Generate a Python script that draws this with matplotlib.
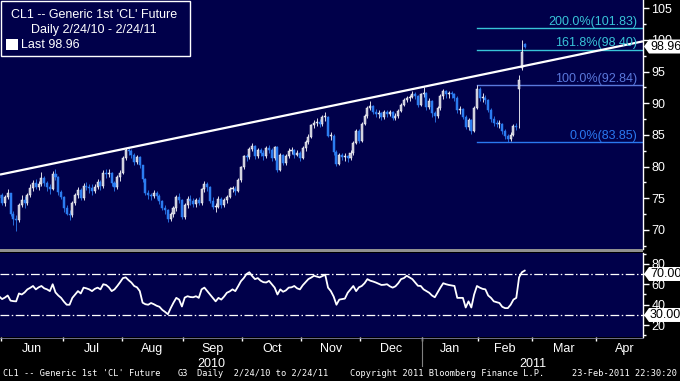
import numpy as np
import pandas as pd
import matplotlib
matplotlib.use("Agg")
import matplotlib.pyplot as plt
from matplotlib.patches import Rectangle, Polygon

# ---------------- data ----------------
holidays = ['2010-05-31', '2010-07-05', '2010-09-06', '2010-11-25', '2010-12-24',
            '2011-01-17', '2011-02-21', '2011-04-22']
first_date = '2010-05-27'
last_date = '2011-02-24'
axis_end_date = '2011-04-29'

closes = [
    75.0, 75.6, 74.3, 75.2, 75.8, 72.6, 71.8, 71.5, 74.0, 74.8, 74.2, 75.5, 76.6, 77.4, 76.8, 77.3, 78.2, 77.4, 76.8, 76.5, 78.9, 78.4, 76.0, 75.2,
    73.4, 72.6, 72.3, 74.2, 75.5, 76.3, 75.1, 77.0, 76.8, 76.6, 76.2, 76.8, 77.6, 76.9, 79.0, 78.9, 79.0, 77.4, 76.8, 78.3, 79.0,
    81.4, 82.6, 82.5, 81.9, 80.8, 81.5, 80.2, 78.0, 75.8, 75.5, 75.3, 75.8, 75.4, 74.5, 73.5, 73.1, 71.7, 72.6, 73.4, 75.2, 74.7, 72.0,
    73.9, 74.9, 74.6, 74.1, 74.7, 74.3, 76.4, 77.2, 76.8, 74.6, 73.7, 73.7, 74.9, 73.9, 74.7, 75.2, 76.5, 76.5, 76.2, 77.9, 79.9,
    81.6, 81.5, 82.8, 83.2, 81.7, 82.7, 82.2, 81.7, 83.0, 82.7, 81.3, 83.1, 79.5, 81.8, 80.6, 81.7, 82.5, 82.6, 81.9, 82.2, 81.4,
    83.0, 83.9, 84.7, 86.5, 86.9, 87.1, 86.7, 87.8, 87.8, 84.9, 84.9, 82.3, 80.4, 81.9, 81.5, 81.7, 81.3, 82.2, 83.8, 85.7, 84.1,
    86.8, 88.0, 89.2, 89.6, 88.7, 88.3, 88.4, 87.8, 88.6, 88.3, 88.6, 87.7, 88.0, 88.8, 89.8, 90.5, 90.8, 91.0, 91.5, 91.1, 89.8, 91.4,
    91.6, 89.4, 90.3, 88.4, 88.0, 89.3, 91.1, 91.9, 91.4, 91.5, 91.4, 90.9, 88.9, 89.1, 87.9, 86.2, 87.3, 85.6, 89.3, 92.2,
    90.8, 90.9, 90.5, 89.0, 87.5, 86.9, 86.7, 86.7, 85.6, 84.8, 84.3, 85.0, 86.4, 86.2, 93.6, 98.1, 98.96,
]
opens = [
    74.6, 75.0, 75.6, 74.3, 75.2, 75.8, 72.6, 71.8, 71.5, 74.0, 74.8, 74.2, 75.5, 76.6, 77.4, 76.8, 77.3, 78.2, 77.4, 76.8, 76.5, 78.9, 78.4, 76.0,
    75.2, 73.4, 72.6, 72.3, 74.2, 75.5, 76.3, 75.1, 77.0, 76.8, 76.6, 76.2, 76.8, 77.6, 76.9, 79.0, 78.9, 79.0, 77.4, 76.8, 78.3,
    79.0, 81.4, 82.6, 82.5, 81.9, 80.8, 81.5, 80.2, 78.0, 75.8, 75.5, 75.3, 75.8, 75.4, 74.5, 73.5, 73.1, 71.7, 72.6, 73.4, 75.2, 74.7,
    72.0, 73.9, 74.9, 74.6, 74.1, 74.7, 74.3, 76.4, 77.2, 76.8, 74.6, 73.7, 73.7, 74.9, 73.9, 74.7, 75.2, 76.5, 76.5, 76.2, 77.9,
    79.9, 81.6, 81.5, 82.8, 83.2, 81.7, 82.7, 82.2, 81.7, 83.0, 82.7, 81.3, 83.1, 79.5, 81.8, 80.6, 81.7, 82.5, 82.6, 81.9, 82.2,
    81.4, 83.0, 83.9, 84.7, 86.5, 86.9, 87.1, 86.7, 87.8, 87.8, 84.9, 84.9, 82.3, 80.4, 81.9, 81.5, 81.7, 81.3, 82.2, 83.8, 85.7,
    84.1, 86.8, 88.0, 89.2, 89.6, 88.7, 88.3, 88.4, 87.8, 88.6, 88.3, 88.6, 87.7, 88.0, 88.8, 89.8, 90.5, 90.8, 91.0, 91.5, 91.1, 89.8,
    91.4, 91.6, 89.4, 90.3, 88.4, 88.0, 89.3, 91.1, 91.9, 91.4, 91.5, 91.4, 90.9, 88.9, 89.1, 87.9, 86.2, 87.3, 85.6, 89.3,
    92.2, 90.8, 90.9, 90.5, 89.0, 87.5, 86.9, 86.7, 86.7, 85.6, 84.8, 84.3, 85.0, 86.4, 92.2, 95.6, 99.3,
]
highs = [
    75.6, 76.2, 75.9, 75.6, 76.4, 75.9, 73.0, 72.4, 74.3, 75.6, 75.3, 75.9, 77.2, 77.9, 78.1, 77.8, 79.1, 78.6, 77.8, 77.2, 79.3, 79.6, 78.6, 76.3,
    75.4, 73.9, 73.1, 74.5, 75.8, 76.8, 76.6, 77.4, 77.6, 77.3, 77.2, 77.3, 78.1, 77.9, 79.4, 79.6, 79.7, 79.2, 77.7, 78.7, 79.4,
    81.6, 82.9, 83.0, 82.8, 82.1, 81.9, 81.7, 80.3, 78.2, 76.3, 75.9, 76.3, 76.1, 75.7, 74.8, 74.0, 73.3, 72.9, 73.8, 75.6, 75.8, 74.9,
    74.2, 75.4, 75.5, 75.0, 75.1, 75.2, 76.6, 77.7, 77.5, 77.0, 75.2, 74.2, 75.3, 75.2, 75.0, 75.5, 76.8, 77.0, 76.9, 78.2, 80.1,
    81.9, 82.0, 83.1, 83.7, 83.4, 83.0, 83.0, 82.6, 83.3, 83.4, 82.9, 83.3, 83.2, 82.1, 82.0, 82.0, 82.9, 83.1, 82.8, 82.7, 82.4,
    83.2, 84.2, 85.2, 86.8, 87.3, 87.6, 87.5, 88.2, 88.6, 88.0, 85.4, 85.1, 82.6, 82.2, 82.2, 82.1, 81.9, 82.6, 84.0, 86.0, 85.9,
    87.0, 88.3, 89.5, 90.4, 89.8, 89.1, 88.9, 88.7, 89.0, 88.9, 89.0, 88.8, 88.4, 89.1, 90.1, 90.8, 91.1, 91.3, 91.9, 91.8, 91.3, 91.6,
    92.6, 91.8, 90.8, 90.5, 88.8, 89.6, 91.4, 92.3, 92.1, 91.9, 92.0, 91.7, 91.1, 89.6, 89.3, 88.2, 87.7, 87.5, 89.6, 92.84,
    92.5, 91.6, 91.3, 90.7, 89.3, 88.0, 87.4, 87.3, 86.9, 86.0, 85.1, 85.4, 86.8, 86.9, 94.5, 100.0, 99.5,
]
lows = [
    74.2, 74.7, 73.9, 73.8, 74.9, 72.2, 70.8, 69.9, 71.2, 73.6, 73.4, 73.9, 75.2, 76.2, 76.4, 76.3, 77.0, 76.9, 76.1, 75.7, 76.3, 77.9, 75.6, 74.9,
    72.8, 72.3, 71.6, 72.0, 73.9, 75.1, 74.8, 74.7, 76.3, 75.9, 75.6, 75.8, 76.5, 76.3, 76.6, 78.2, 78.4, 77.0, 76.1, 76.5, 77.8,
    78.8, 81.0, 81.9, 81.3, 80.3, 80.4, 79.8, 77.6, 75.5, 74.9, 74.8, 75.0, 74.9, 74.1, 73.1, 72.6, 71.2, 71.4, 72.1, 73.0, 74.2, 71.8,
    71.7, 73.5, 74.0, 73.6, 73.7, 73.9, 74.0, 76.0, 76.1, 74.3, 73.3, 72.9, 73.4, 73.5, 73.6, 74.2, 75.0, 76.0, 75.6, 76.0, 77.6,
    79.6, 80.9, 81.2, 82.4, 81.2, 81.3, 81.7, 81.1, 81.4, 82.1, 80.9, 81.0, 79.1, 79.3, 80.2, 80.3, 81.3, 82.0, 81.4, 81.6, 80.9,
    81.2, 82.5, 83.5, 84.5, 86.1, 86.4, 86.2, 86.4, 87.2, 84.6, 84.2, 81.9, 80.1, 80.2, 81.0, 80.9, 80.7, 81.0, 81.9, 83.5, 83.8,
    83.9, 86.5, 87.6, 88.9, 88.3, 87.9, 87.6, 87.3, 87.5, 87.8, 88.0, 87.3, 87.4, 87.7, 88.6, 89.5, 90.2, 90.4, 90.8, 90.6, 89.4, 89.6,
    91.0, 89.0, 89.1, 87.9, 87.1, 87.7, 89.0, 90.7, 90.9, 90.9, 90.8, 90.4, 88.5, 88.3, 87.5, 85.9, 85.8, 85.1, 85.4, 89.1,
    90.3, 90.2, 89.9, 88.6, 87.1, 86.4, 86.2, 86.1, 85.2, 84.4, 83.85, 84.0, 84.8, 85.8, 86.1, 95.3, 98.7,
]
rsi = [
    47, 48, 45.5, 47, 49, 44, 43.5, 43.3, 51, 50, 52, 55, 56.5, 58.3, 55, 57, 58.3, 56, 55, 53.3, 60, 52, 49, 46.7,
    43, 40, 40, 46.7, 50, 53.3, 51, 56.7, 56, 55, 53.3, 55.5, 56.7, 55, 60, 59.3, 57, 53.3, 55, 58.3, 62,
    66, 66.7, 64, 61.7, 58.3, 57, 53.3, 42, 40.5, 40, 41.7, 40.5, 39, 38, 35, 33, 30.7, 36.7, 42, 46.7, 45, 38.3,
    47, 48.3, 47.5, 47.3, 48.3, 46.7, 55, 56.7, 53.3, 50, 46.7, 43.3, 46.7, 45, 48, 51.7, 53, 55, 53.3, 58, 63,
    66, 70, 71.7, 68, 65, 66, 63.5, 62, 61.7, 63.3, 60, 56.7, 50, 55, 52.7, 54, 56.7, 57, 58.3, 56, 55,
    59, 62, 65, 66.5, 68.3, 67.5, 66.7, 68, 69.3, 56.7, 53.3, 48, 40, 45, 45.5, 46, 51.7, 55, 58.3, 53.3, 57,
    58.3, 61, 65, 63.5, 62.7, 61.7, 60.5, 59.3, 59.5, 60, 58, 56.7, 58, 61, 65, 66, 68.3, 66.7, 65, 61.7, 58.5, 58.3,
    55, 53.3, 51.7, 49, 47.3, 52, 56.7, 61, 60, 59.3, 58.8, 58.3, 46.7, 46.7, 46.7, 37.3, 43.3, 37.3, 50, 58.3,
    56.7, 55.5, 55, 49, 46.7, 43.3, 42.5, 41.7, 38, 36.7, 36.7, 40, 45, 46.7, 66.7, 71.7, 73.3,
]

trend_dates = ['2010-08-04', '2011-01-03']
trend_prices = [82.95, 92.6]

fib_start = '2011-01-31'
fib_pcts = ['200.0%', '161.8%', '100.0%', '0.0%']
fib_values = [101.83, 98.40, 92.84, 83.85]

price_ticks = [70, 75, 80, 85, 90, 95, 100, 105]
rsi_ticks = [20, 40, 60, 80]
rsi_bands = [70.00, 30.00]
last_price = 98.96

legend_title = "CL1 -- Generic 1st 'CL' Future"
legend_sub = "Daily 2/24/10 - 2/24/11"
footer_left = ["CL1 -- Generic 1st 'CL' Future", "G3", "Daily  2/24/10 to 2/24/11",
               "Copyright 2011 Bloomberg Finance L.P."]
footer_right = "23-Feb-2011 22:30:20"

# ---------------- styling ----------------
W, H = 680, 381
NAVY = '#00004a'
UPC, DNC = '#c4c4d4', '#2c7cf0'
fib_colors = ['#38c4d8', '#38c4d8', '#5a78dc', '#2a78f0']
FONT = 'Liberation Sans'

cal = pd.bdate_range(first_date, axis_end_date)
cal = cal[~cal.isin(pd.to_datetime(holidays))]
pos = {d: i for i, d in enumerate(cal)}
n = len(closes)
idx = np.arange(n)
o, h, l, c = map(np.asarray, (opens, highs, lows, closes))

x_left, x_right = 1.25, 230.1


def fig_rect(x0, y0, x1, y1):
    return [x0 / W, 1 - y1 / H, (x1 - x0) / W, (y1 - y0) / H]


fig = plt.figure(figsize=(W / 100, H / 100), dpi=100, facecolor='black')
ax = fig.add_axes(fig_rect(0, 0, 643, 249))
ax2 = fig.add_axes(fig_rect(0, 253, 643, 337))

for a in (ax, ax2):
    a.set_facecolor(NAVY)
    for s in ('top', 'left', 'bottom'):
        a.spines[s].set_visible(False)
    a.spines['right'].set_color('white')
    a.spines['right'].set_linewidth(1.0)
    a.yaxis.tick_right()
    a.tick_params(axis='y', colors='white', labelsize=9, length=4, width=1, pad=2)
    a.tick_params(axis='y', which='minor', colors='white', length=2, width=1)
    a.set_xlim(x_left, x_right)

# ---- candles ----
up = c >= o
ax.vlines(idx[up], l[up], h[up], color='white', lw=0.6, zorder=2)
ax.vlines(idx[~up], l[~up], h[~up], color=DNC, lw=0.6, zorder=2)
body_lo = np.minimum(o, c)
body_h = np.maximum(np.abs(c - o), 0.15)
ax.bar(idx[up], body_h[up], bottom=body_lo[up], width=0.72, color=UPC,
       edgecolor='white', linewidth=0.35, zorder=3)
ax.bar(idx[~up], body_h[~up], bottom=body_lo[~up], width=0.72, color=DNC,
       edgecolor=DNC, linewidth=0.35, zorder=3)

ax.set_ylim(67.0, 106.3)
ax.set_yticks(price_ticks)
ax.set_yticks(np.arange(67.5, 106, 2.5), minor=True)
ax.set_yticklabels([str(t) for t in price_ticks], family=FONT)
ax.set_xticks([])

# ---- trend line ----
tx = [pos[pd.Timestamp(d)] for d in trend_dates]
slope = (trend_prices[1] - trend_prices[0]) / (tx[1] - tx[0])
ax.plot([x_left, x_right],
        [trend_prices[0] + slope * (x_left - tx[0]), trend_prices[0] + slope * (x_right - tx[0])],
        color='white', lw=1.6, zorder=4, solid_capstyle='butt')

# ---- fibonacci ----
fx = pos[pd.Timestamp(fib_start)]
for pct, v, col in zip(fib_pcts, fib_values, fib_colors):
    ax.plot([fx, x_right], [v, v], color=col, lw=1.0, zorder=1.5)
    ax.annotate(f'{pct}({v:.2f})', xy=(x_right, v), xytext=(-4, 0.5), textcoords='offset points',
                ha='right', va='bottom', color=col, fontsize=9, family=FONT, zorder=5)

# ---- RSI ----
ax2.plot(idx, rsi, color='white', lw=1.3, zorder=3)
for b in rsi_bands:
    ax2.axhline(b, color='white', lw=0.9, ls=(0, (7, 2, 1.2, 2)), zorder=2)
ax2.set_ylim(8.5, 90.5)
ax2.set_yticks(rsi_ticks)
ax2.set_yticklabels([str(t) for t in rsi_ticks], family=FONT)
ax2.set_yticks([10, 30, 50, 70, 90], minor=True)

# month ticks / labels
months = pd.Series(np.arange(len(cal)), index=cal)
starts, centers, names = [], [], []
for (yr, mo), grp in months.groupby([cal.year, cal.month]):
    starts.append(grp.iloc[0] - 0.5)
    centers.append((grp.iloc[0] + grp.iloc[-1]) / 2)
    names.append(grp.index[0].strftime('%b'))
ax2.set_xticks([s for s in starts if x_left < s < x_right])
ax2.tick_params(axis='x', colors='white', length=3, width=1, labelbottom=False)
for cx, nm in zip(centers, names):
    if x_left < cx < x_right:
        ax2.annotate(nm, xy=(cx, 0), xycoords=('data', 'axes fraction'), xytext=(0, -4),
                     textcoords='offset points', ha='center', va='top', color='white',
                     fontsize=9, family=FONT, annotation_clip=False)
year_split = pos[pd.Timestamp('2011-01-03')] - 0.5
for yr, cx in (('2010', (x_left + year_split) / 2), ('2011', (year_split + x_right) / 2)):
    ax2.annotate(yr, xy=(cx, 0), xycoords=('data', 'axes fraction'), xytext=(0, -15),
                 textcoords='offset points', ha='center', va='top', color='white',
                 fontsize=9, family=FONT, annotation_clip=False)
fig.add_artist(plt.Line2D([(year_split - x_left) / (x_right - x_left) * 643 / W] * 2,
                          [1 - 339 / H, 1 - 366 / H], color='#808080', lw=0.8))

# separator & bottom line
fig.add_artist(Rectangle((0, 1 - 252 / H), 643 / W, 3 / H, transform=fig.transFigure,
                         facecolor='#909090', edgecolor='none'))
fig.add_artist(plt.Line2D([0, 643 / W], [1 - 337.5 / H] * 2, color='#8080a0', lw=0.6))

# ---- value call-outs on axis ----
fig.canvas.draw()


def callout(a, val, text):
    yd = a.transData.transform((x_left, val))[1]
    yt = H - yd
    x0 = 644
    pts = [(x0, yt), (x0 + 5, yt - 7), (680, yt - 7), (680, yt + 7), (x0 + 5, yt + 7)]
    fig.add_artist(Polygon([(px / W, 1 - py / H) for px, py in pts], closed=True,
                           transform=fig.transFigure, facecolor='white', edgecolor='none', zorder=10))
    fig.text((x0 + 6) / W, 1 - yt / H, text, color='black', fontsize=9, family=FONT,
             ha='left', va='center', zorder=11)


callout(ax, last_price, f'{last_price:.2f}')
for b in rsi_bands:
    callout(ax2, b, f'{b:.2f}')

# ---- legend box ----
fig.add_artist(Rectangle((0.5 / W, 1 - 56 / H), 189 / W, 55.5 / H, transform=fig.transFigure,
                         facecolor=NAVY, edgecolor='white', lw=1, zorder=12))
fig.text(94 / W, 1 - 15 / H, legend_title, color='white', fontsize=9, family=FONT,
         ha='center', va='center', zorder=13)
fig.text(94 / W, 1 - 30 / H, legend_sub, color='white', fontsize=9, family=FONT,
         ha='center', va='center', zorder=13)
fig.add_artist(Rectangle((6 / W, 1 - 50 / H), 12 / W, 11 / H, transform=fig.transFigure,
                         facecolor='white', edgecolor='none', zorder=13))
fig.text(21 / W, 1 - 45 / H, f'Last {last_price:.2f}', color='white', fontsize=9, family=FONT,
         ha='left', va='center', zorder=13)

# ---- footer ----
for xp, txt in zip([3, 178, 197, 350], footer_left):
    fig.text(xp / W, 1 - 373 / H, txt, color='white', fontsize=6.2, family='DejaVu Sans Mono',
             ha='left', va='center')
fig.text(677 / W, 1 - 373 / H, footer_right, color='white', fontsize=6.2, family='DejaVu Sans Mono',
         ha='right', va='center')

fig.savefig('out.png', dpi=100, facecolor='black')
